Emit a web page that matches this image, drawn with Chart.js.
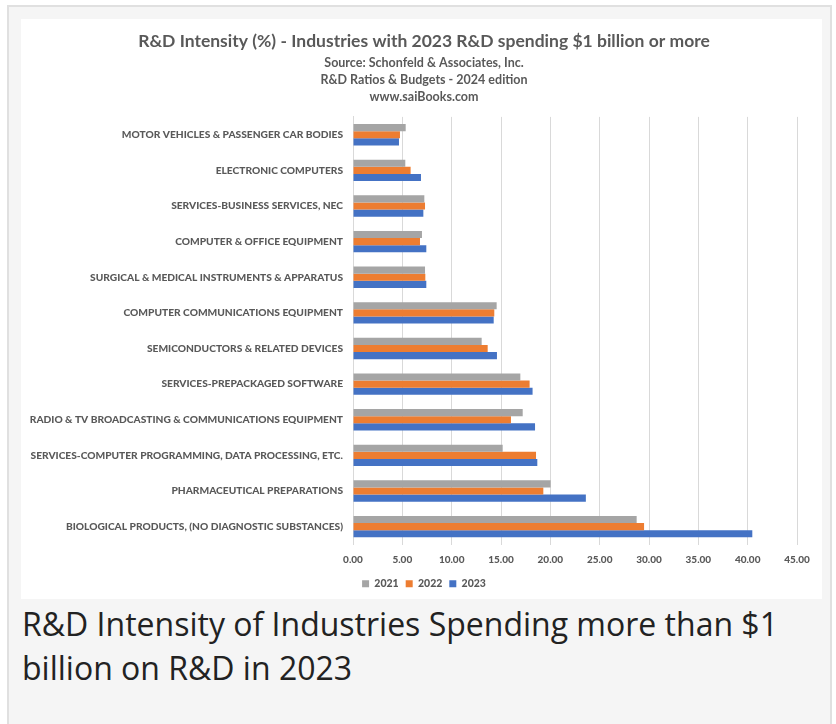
<!DOCTYPE html>
<html>
<head>
<meta charset="utf-8">
<script src="https://cdn.jsdelivr.net/npm/chart.js@4"></script>
<style>
  body { margin: 0; background: #fff; overflow: hidden; }
  .frame {
    position: absolute; left: 7px; top: 5px; width: 821px; height: 740px;
    background: #f5f5f5; border: 2px solid #e0e0e0;
  }
  .chartBox { position: absolute; left: 21px; top: 19px; width: 801px; height: 580px; background: #fff; }
  #rdChart { position: absolute; left: 21px; top: 19px; }
  .caption {
    position: absolute; left: 22px; top: 602px;
    font-family: "Open Sans", sans-serif; font-size: 32px; line-height: 44px;
    color: #222; white-space: nowrap;
  }
</style>
</head>
<body>
<div class="frame"></div>
<div class="chartBox"></div>
<canvas id="rdChart" width="806" height="580"></canvas>
<div class="caption">R&amp;D Intensity of Industries Spending more than $1<br>billion on R&amp;D in 2023</div>

<script>
const industries = [
  'MOTOR VEHICLES & PASSENGER CAR BODIES',
  'ELECTRONIC COMPUTERS',
  'SERVICES-BUSINESS SERVICES, NEC',
  'COMPUTER & OFFICE EQUIPMENT',
  'SURGICAL & MEDICAL INSTRUMENTS & APPARATUS',
  'COMPUTER COMMUNICATIONS EQUIPMENT',
  'SEMICONDUCTORS & RELATED DEVICES',
  'SERVICES-PREPACKAGED SOFTWARE',
  'RADIO & TV BROADCASTING & COMMUNICATIONS EQUIPMENT',
  'SERVICES-COMPUTER PROGRAMMING, DATA PROCESSING, ETC.',
  'PHARMACEUTICAL PREPARATIONS',
  'BIOLOGICAL PRODUCTS, (NO DIAGNOSTIC SUBSTANCES)'
];

const intensity2021 = [5.34, 5.30, 7.23, 6.99, 7.30, 14.56, 13.04, 16.96, 17.20, 15.17, 20.03, 28.75];
const intensity2022 = [4.76, 5.84, 7.30, 6.79, 7.33, 14.32, 13.65, 17.90, 16.01, 18.55, 19.29, 29.50];
const intensity2023 = [4.66, 6.89, 7.13, 7.43, 7.43, 14.26, 14.59, 18.20, 18.45, 18.68, 23.60, 40.47];

const titleText = 'R&D Intensity (%) - Industries with 2023 R&D spending $1 billion or more';
const subtitleLines = [
  'Source: Schonfeld & Associates, Inc.',
  'R&D Ratios & Budgets - 2024 edition',
  'www.saiBooks.com'
];

const textColor = '#595959';
const gridColor = '#d9d9d9';
const fontFamily = 'Lato, "Open Sans", sans-serif';

new Chart(document.getElementById('rdChart'), {
  type: 'bar',
  data: {
    labels: industries,
    datasets: [
      { label: '2021', data: intensity2021, backgroundColor: '#a5a5a5' },
      { label: '2022', data: intensity2022, backgroundColor: '#ed7d31' },
      { label: '2023', data: intensity2023, backgroundColor: '#4472c4' }
    ]
  },
  options: {
    indexAxis: 'y',
    responsive: false,
    animation: false,
    categoryPercentage: 0.6,
    barPercentage: 1.0,
    layout: { padding: { left: 0, right: 0, top: 0, bottom: 0 } },
    scales: {
      x: {
        min: 0,
        max: 45,
        ticks: {
          stepSize: 5,
          padding: 9,
          color: textColor,
          font: { family: fontFamily, size: 10, weight: '900' },
          callback: (value) => Number(value).toFixed(2)
        },
        grid: { color: gridColor, drawTicks: false },
        border: { display: false },
        afterFit: (scale) => { scale.height = 27; }
      },
      y: {
        ticks: {
          padding: 10,
          color: textColor,
          font: { family: fontFamily, size: 10.2, weight: '900' }
        },
        grid: { display: false, drawTicks: false },
        border: { display: true, color: gridColor },
        afterFit: (scale) => { scale.width = 332; }
      },
      // empty right-hand axis, only there to reserve space so title and legend sit centred
      yRight: {
        type: 'category',
        position: 'right',
        ticks: { display: false },
        grid: { display: false, drawTicks: false },
        border: { display: false },
        afterFit: (scale) => { scale.width = 30; }
      }
    },
    plugins: {
      title: {
        display: true,
        text: titleText,
        color: textColor,
        font: { family: fontFamily, size: 17.5, weight: 'bold', lineHeight: 1.2 },
        padding: { top: 12, bottom: 2 }
      },
      subtitle: {
        display: true,
        text: subtitleLines,
        color: textColor,
        font: { family: fontFamily, size: 12.5, weight: 'bold', lineHeight: 1.33 },
        padding: { top: 1, bottom: 12 }
      },
      legend: {
        position: 'bottom',
        labels: {
          boxWidth: 7,
          boxHeight: 7,
          padding: 7,
          color: textColor,
          font: { family: fontFamily, size: 10.5, weight: '900' }
        }
      },
      tooltip: { enabled: false }
    }
  }
});
</script>
</body>
</html>
